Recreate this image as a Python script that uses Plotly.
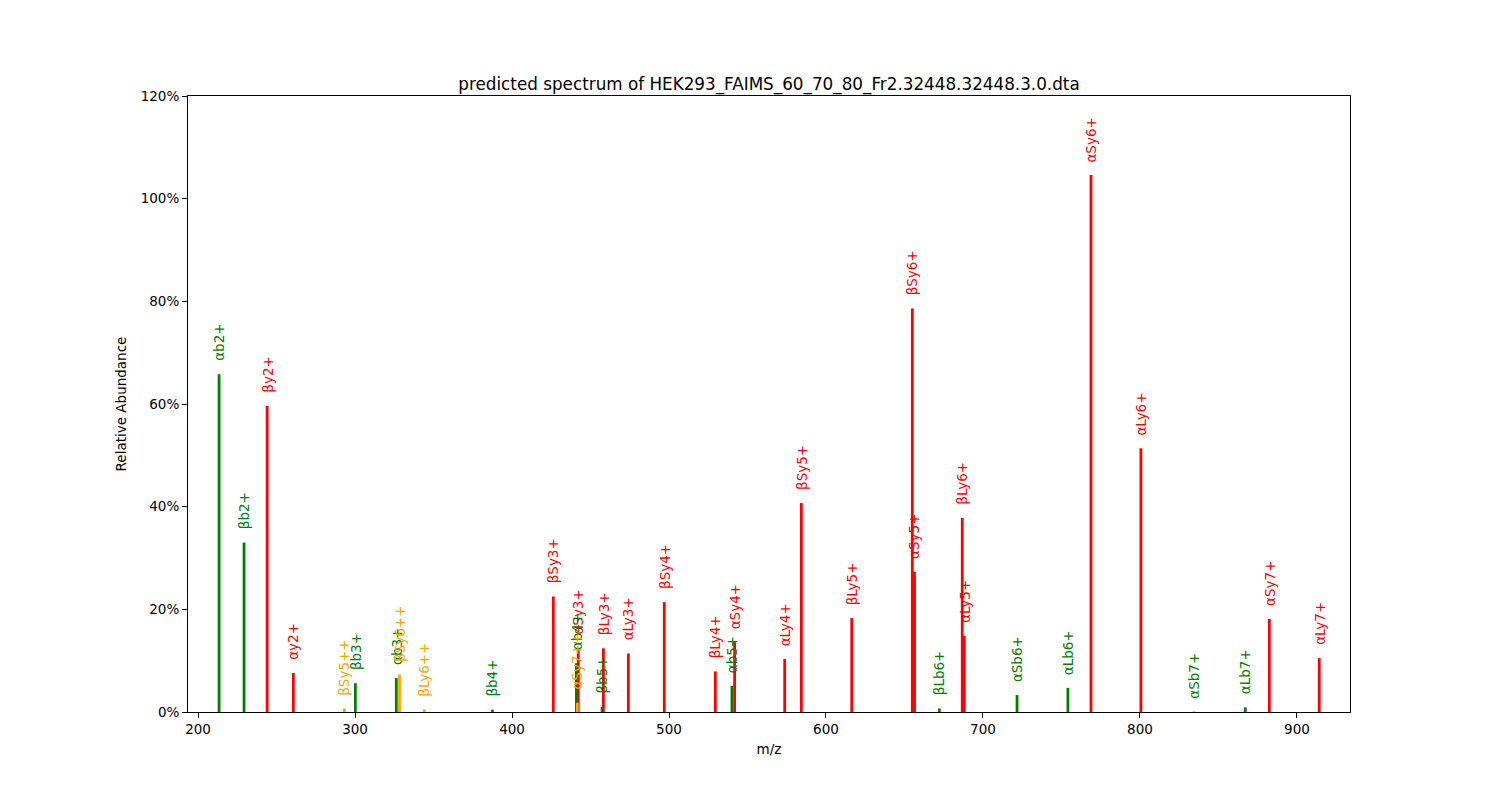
import plotly.graph_objects as go

# ---- data ----
# singly charged y-type ions (red)
y_labels = ["βy2+", "αy2+", "βSy3+", "αSy3+", "βLy3+", "αLy3+", "βSy4+", "βLy4+",
            "αSy4+", "αLy4+", "βSy5+", "βLy5+", "βSy6+", "αSy5+", "βLy6+", "αLy5+",
            "αSy6+", "αLy6+", "αSy7+", "αLy7+"]
y_mz = [244.0, 260.7, 426.3, 442.2, 458.2, 474.1, 497.0, 529.5,
        541.8, 573.7, 584.3, 616.4, 655.0, 656.4, 686.8, 688.1,
        768.8, 800.6, 882.4, 914.2]
y_abund = [59.6, 7.6, 22.5, 12.5, 12.4, 11.4, 21.4, 7.9,
           13.6, 10.3, 40.7, 18.3, 78.6, 27.3, 37.8, 14.8,
           104.6, 51.4, 18.1, 10.5]

# singly charged b-type ions (green)
b_labels = ["αb2+", "βb2+", "βb3+", "αb3+", "βb4+", "αb4+", "βb5+", "αb5+",
            "βLb6+", "αSb6+", "αLb6+", "αSb7+", "αLb7+"]
b_mz = [213.4, 229.3, 300.2, 326.3, 387.5, 441.0, 457.4, 540.1,
        672.2, 721.7, 754.1, 834.4, 867.1]
b_abund = [65.8, 33.0, 5.6, 6.6, 0.45, 9.5, 1.0, 5.1,
           0.7, 3.3, 4.7, 0.05, 0.9]

# doubly charged ions (orange)
d_labels = ["βSy5++", "βSy6++", "βLy6++", "αSy7++"]
d_mz = [293.2, 328.3, 344.1, 441.6]
d_abund = [0.7, 7.3, 0.5, 1.8]

x_ticks = [200, 300, 400, 500, 600, 700, 800, 900]
y_ticks = [0, 20, 40, 60, 80, 100, 120]
y_tick_labels = ["0%", "20%", "40%", "60%", "80%", "100%", "120%"]

title_text = "predicted spectrum of HEK293_FAIMS_60_70_80_Fr2.32448.32448.3.0.dta"

# ---- styling ----
FONT = "DejaVu Sans, Liberation Sans, sans-serif"
series = [
    (y_labels, y_mz, y_abund, "#ff0000"),
    (b_labels, b_mz, b_abund, "#008000"),
    (d_labels, d_mz, d_abund, "#ffa500"),
]

fig = go.Figure()
annotations = []
for labels, mz, ab, color in series:
    xs, ys = [], []
    for m, a in zip(mz, ab):
        xs += [m, m, None]
        ys += [0, a, None]
    fig.add_trace(go.Scatter(x=xs, y=ys, mode="lines",
                             line=dict(color=color, width=2.8),
                             hoverinfo="skip", showlegend=False))
    for lab, m, a in zip(labels, mz, ab):
        annotations.append(dict(
            x=m, y=a, xref="x", yref="y", text=lab, showarrow=False,
            textangle=-90, xanchor="center", yanchor="bottom", yshift=12,
            font=dict(family=FONT, size=13.5, color=color), borderpad=0))

fig.update_layout(
    width=1500, height=800,
    margin=dict(l=188, r=150, t=96, b=88),
    paper_bgcolor="white", plot_bgcolor="white",
    font=dict(family=FONT, size=13.5, color="black"),
    title=dict(text=title_text, x=(188 + 1350) / 2 / 1500, xanchor="center",
               y=1 - 90 / 800, yanchor="bottom", yref="container",
               font=dict(family=FONT, size=16.8, color="black")),
    annotations=annotations,
    showlegend=False,
)
fig.update_xaxes(range=[193.6, 933.8], tickmode="array", tickvals=x_ticks,
                 showline=True, mirror=True, linecolor="black", linewidth=1,
                 ticks="outside", ticklen=5, tickcolor="black", showgrid=False,
                 zeroline=False,
                 title=dict(text="m/z", standoff=8, font=dict(family=FONT, size=13.5)))
fig.update_yaxes(range=[0, 120], tickmode="array", tickvals=y_ticks,
                 ticktext=y_tick_labels,
                 showline=True, mirror=True, linecolor="black", linewidth=1,
                 ticks="outside", ticklen=5, tickcolor="black", showgrid=False,
                 zeroline=False,
                 title=dict(text="Relative Abundance", standoff=10,
                            font=dict(family=FONT, size=13.5)))

fig.write_html("out.html")
